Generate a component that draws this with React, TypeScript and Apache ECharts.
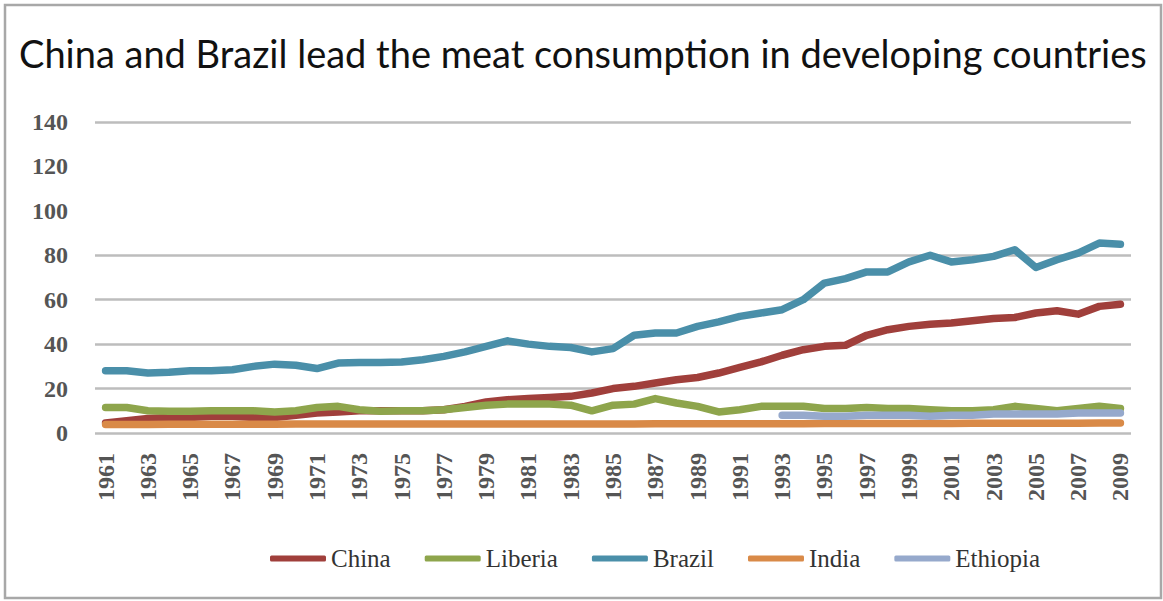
import React, { useEffect, useRef } from "react";
import * as echarts from "echarts";

const years = [
  "1961", "1962", "1963", "1964", "1965", "1966", "1967", "1968", "1969", "1970",
  "1971", "1972", "1973", "1974", "1975", "1976", "1977", "1978", "1979", "1980",
  "1981", "1982", "1983", "1984", "1985", "1986", "1987", "1988", "1989", "1990",
  "1991", "1992", "1993", "1994", "1995", "1996", "1997", "1998", "1999", "2000",
  "2001", "2002", "2003", "2004", "2005", "2006", "2007", "2008", "2009",
];

const china = [
  4.5, 5.5, 6.5, 7, 7, 7.5, 7.5, 7, 7, 8,
  9, 9.5, 10, 10, 10, 10, 10.5, 12, 14, 15,
  15.5, 16, 16.5, 18, 20, 21, 22.5, 24, 25, 27,
  29.5, 32, 35, 37.5, 39, 39.5, 44, 46.5, 48, 49,
  49.5, 50.5, 51.5, 52, 54, 55, 53.5, 57, 58,
];

const liberia = [
  11.5, 11.5, 10, 9.8, 9.8, 10, 10, 10, 9.5, 10,
  11.5, 12, 10.5, 9.8, 10, 10, 10.5, 11.5, 12.5, 13,
  13, 13, 12.5, 10, 12.5, 13, 15.5, 13.5, 12, 9.5,
  10.5, 12, 12, 12, 11, 11, 11.5, 11, 11, 10.5,
  10, 10, 10.5, 12, 11, 10, 11, 12, 11,
];

const brazil = [
  28, 28, 27, 27.3, 28, 28, 28.5, 30, 31, 30.5,
  29, 31.5, 31.7, 31.7, 32, 33, 34.5, 36.5, 39, 41.5,
  40, 39, 38.5, 36.5, 38, 44, 45, 45, 48, 50,
  52.5, 54, 55.5, 60, 67.5, 69.5, 72.5, 72.5, 77, 80,
  77, 78, 79.5, 82.5, 74.5, 78, 81, 85.5, 85,
];

const india = [
  3.8, 3.8, 3.8, 3.9, 3.9, 3.9, 3.9, 3.9, 3.9, 4.0,
  4.0, 4.0, 4.0, 4.0, 4.0, 4.0, 4.0, 4.0, 4.1, 4.1,
  4.1, 4.1, 4.1, 4.1, 4.1, 4.1, 4.2, 4.2, 4.2, 4.2,
  4.2, 4.2, 4.2, 4.2, 4.3, 4.3, 4.3, 4.3, 4.3, 4.3,
  4.3, 4.4, 4.4, 4.4, 4.4, 4.4, 4.4, 4.5, 4.5,
];

const ethiopia = [
  null, null, null, null, null, null, null, null, null, null,
  null, null, null, null, null, null, null, null, null, null,
  null, null, null, null, null, null, null, null, null, null,
  null, null, 8, 8, 7.5, 7.5, 8, 8, 8, 7.5,
  8, 8, 8.5, 8.5, 8.5, 8.5, 9, 9, 9,
];

const seriesNames = ["China", "Liberia", "Brazil", "India", "Ethiopia"];
const seriesColors = ["#a03f3b", "#8ea54c", "#4a8fa9", "#d98a48", "#96a9cc"];
// gridlines visible in the reference (100 and 120 are blanked out there)
const gridValues = [0, 20, 40, 60, 80, 140];

const title = "China and Brazil lead the meat consumption in developing countries";

export default function App() {
  const ref = useRef<HTMLDivElement>(null);

  useEffect(() => {
    if (!ref.current) return;
    const chart = echarts.init(ref.current, null, { renderer: "svg" });
    const dataSets = [china, liberia, brazil, india, ethiopia];
    const serif = "Liberation Serif";
    chart.setOption({
      animation: false,
      backgroundColor: "#ffffff",
      title: {
        text: title,
        left: 14,
        top: 29,
        textStyle: {
          fontFamily: "Lato",
          fontWeight: "normal",
          fontSize: 38,
          color: "#111111",
        },
      },
      graphic: [
        {
          type: "rect",
          shape: { x: 5, y: 5, width: 1156, height: 593 },
          style: { fill: "none", stroke: "#a8a8a8", lineWidth: 2.5 },
          silent: true,
        },
      ],
      legend: {
        data: seriesNames,
        left: 265,
        top: 541,
        icon: "roundRect",
        itemWidth: 56,
        itemHeight: 6,
        itemGap: 34,
        textStyle: { fontFamily: serif, fontSize: 25, color: "#333333" },
      },
      grid: { left: 95, right: 32, top: 122, bottom: 168, containLabel: false },
      xAxis: {
        type: "category",
        data: years,
        boundaryGap: true,
        axisLine: { show: false },
        axisTick: { show: false },
        splitLine: { show: false },
        axisLabel: {
          rotate: 90,
          interval: 1,
          margin: 20,
          fontFamily: serif,
          fontWeight: "bold",
          fontSize: 24,
          color: "#555555",
        },
      },
      yAxis: {
        type: "value",
        min: 0,
        max: 140,
        interval: 20,
        axisLine: { show: false },
        axisTick: { show: false },
        axisLabel: {
          margin: 27,
          fontFamily: serif,
          fontWeight: "bold",
          fontSize: 24,
          color: "#555555",
        },
        splitLine: { show: false },
      },
      series: [
        {
          name: "grid",
          type: "line",
          data: [],
          z: 0,
          silent: true,
          markLine: {
            silent: true,
            z: 0,
            zlevel: 0,
            symbol: "none",
            label: { show: false },
            emphasis: { disabled: true },
            lineStyle: { color: "#bdbdbd", width: 2.5, type: "solid" },
            data: gridValues.map((v) => ({ yAxis: v })),
          },
        },
        ...seriesNames.map((name, i) => ({
          name,
          type: "line",
          data: dataSets[i],
          symbol: "none",
          smooth: false,
          connectNulls: false,
          z: 3 + i,
          color: seriesColors[i],
          lineStyle: { width: 7.5, color: seriesColors[i], cap: "round", join: "round" },
        })),
      ],
    });
    return () => chart.dispose();
  }, []);

  return (
    <div
      ref={ref}
      style={{ position: "fixed", left: 0, top: 0, width: 1163, height: 601 }}
    />
  );
}
